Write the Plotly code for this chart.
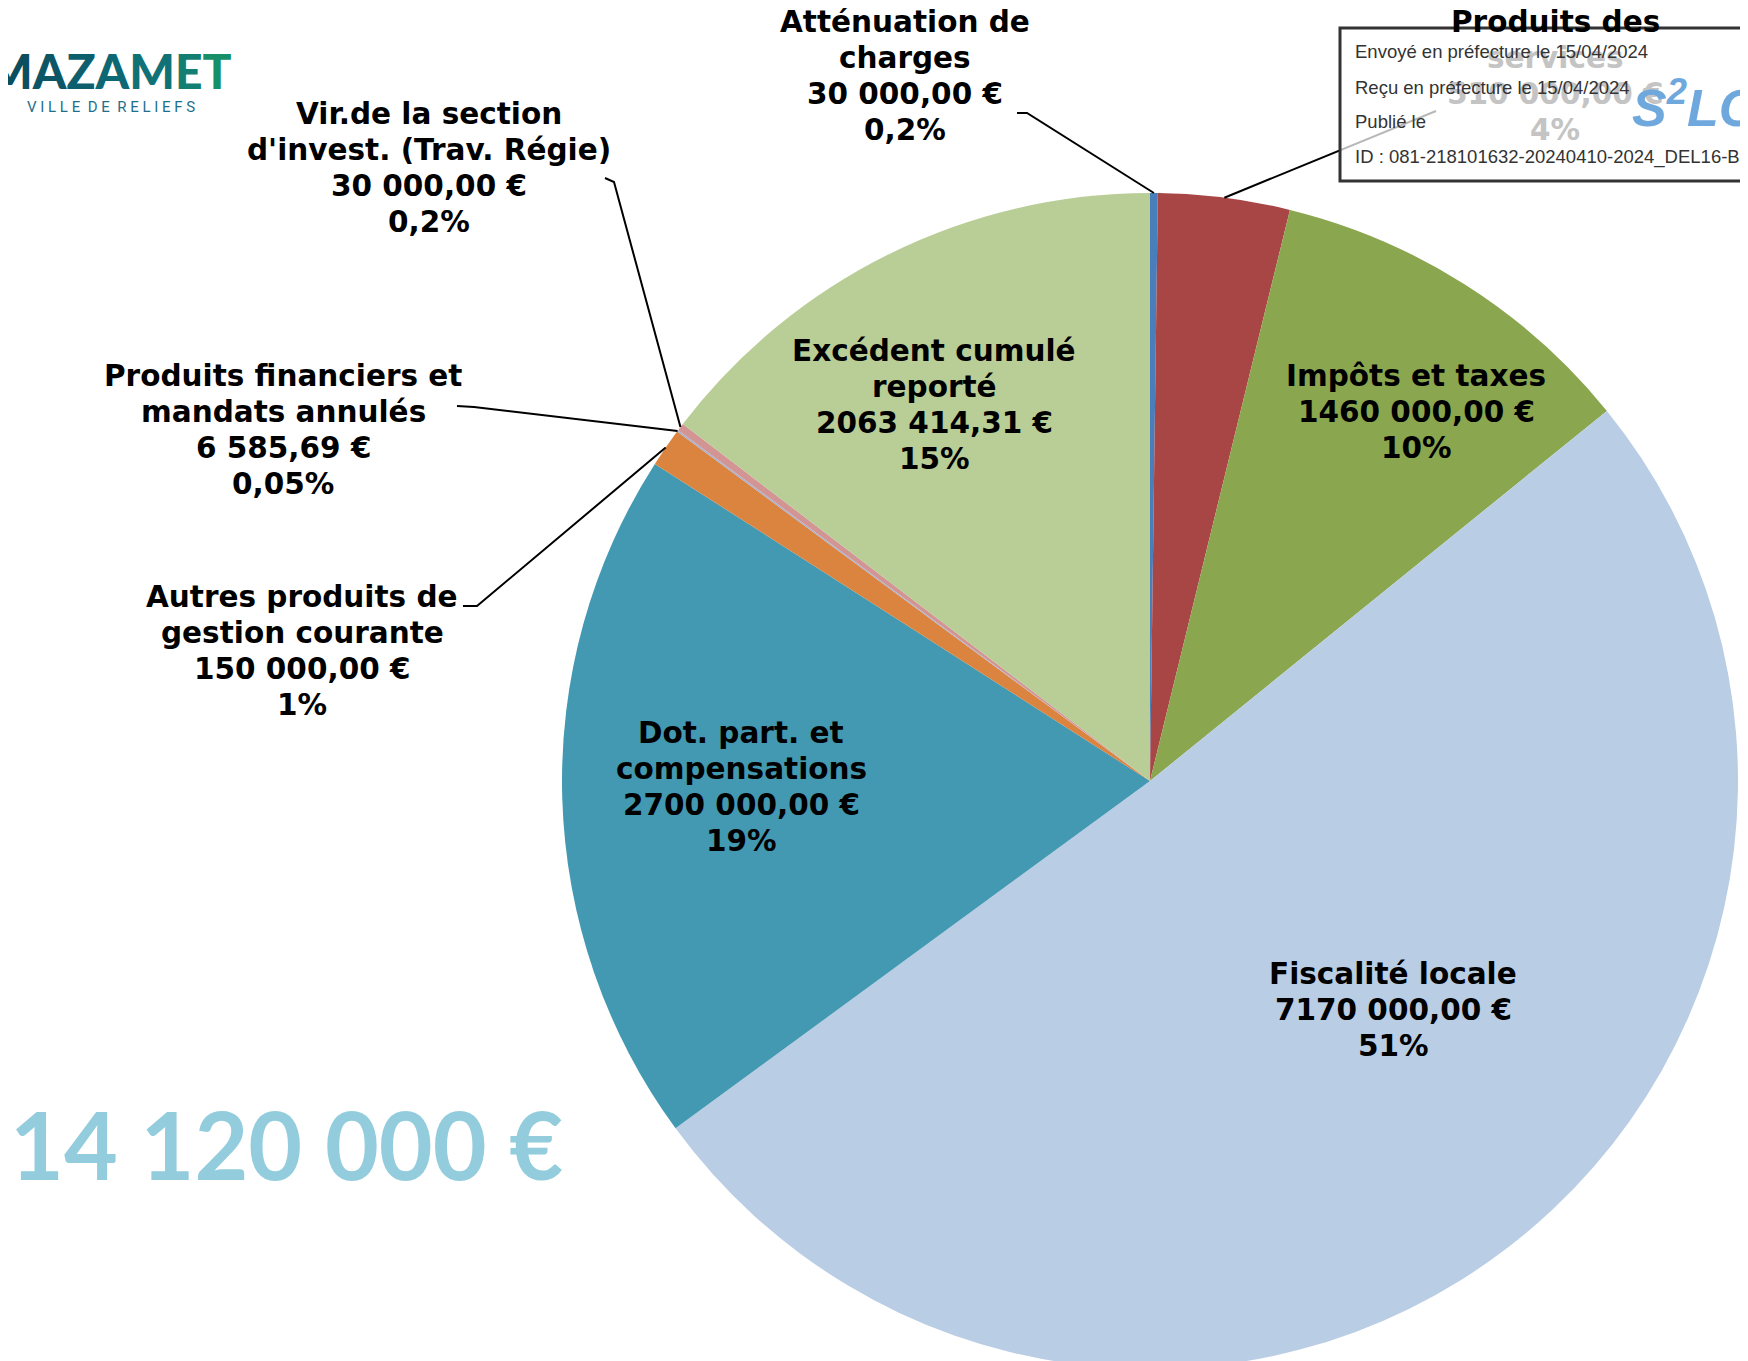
import math
import plotly.graph_objects as go

# ---------------- data ----------------
categories = [
    "Atténuation de charges",
    "Produits des services",
    "Impôts et taxes",
    "Fiscalité locale",
    "Dot. part. et compensations",
    "Autres produits de gestion courante",
    "Produits financiers et mandats annulés",
    "Vir.de la section d'invest. (Trav. Régie)",
    "Excédent cumulé reporté",
]
label_lines = [
    ["Atténuation de", "charges"],
    ["Produits des", "services"],
    ["Impôts et taxes"],
    ["Fiscalité locale"],
    ["Dot. part. et", "compensations"],
    ["Autres produits de", "gestion courante"],
    ["Produits financiers et", "mandats annulés"],
    ["Vir.de la section", "d'invest. (Trav. Régie)"],
    ["Excédent cumulé", "reporté"],
]
values = [30000, 510000, 1460000, 7170000, 2700000, 150000, 6585.69, 30000, 2063414.31]
percent_labels = ["0,2%", "4%", "10%", "51%", "19%", "1%", "0,05%", "0,2%", "15%"]
total_label = "14 120 000 €"
stamp_lines = [
    "Envoyé en préfecture le 15/04/2024",
    "Reçu en préfecture le 15/04/2024",
    "Publié le",
    "ID : 081-218101632-20240410-2024_DEL16-BF",
]

# ---------------- style / layout ----------------
W, H = 1748, 1361
OFF = 8  # page body margin
LINE_GAP = 36.0
colors = ["#4A7EBB", "#A84646", "#8AA64F", "#B9CDE5", "#4399B1",
          "#DA843F", "#A3B3D3", "#D39494", "#B9CD96"]


def px(x, y):
    """screen pixel -> paper coords (accounting for page margin)"""
    return (x - OFF) / W, 1 - (y - OFF) / H


PIE_TOP = 193
PIE_CX = 1150
R_X = 596
dom_x = [(PIE_CX - OFF - R_X) / W, (PIE_CX - OFF + R_X) / W]
dom_y = [0.0, 1 - (PIE_TOP - OFF) / H]
R = min(R_X, (H - (PIE_TOP - OFF)) / 2)
CY = PIE_TOP + R

# label centres (screen px) and leader starts (screen px)
label_pos = {0: (905, 76), 1: (1555, 76), 2: (1416, 412), 3: (1393, 1010),
             4: (741, 787), 5: (302, 651), 6: (283, 430), 7: (429, 168), 8: (934, 405)}
leader_start = {0: [(1017, 113), (1027, 113)],
                1: [(1436, 111)],
                5: [(463, 606), (477, 606)],
                6: [(457, 406), (474, 407)],
                7: [(605, 178), (614, 182)]}


def fmt_eur(v):
    s = f"{v:.2f}"
    ip, dp = s.split(".")
    if len(ip) > 3:
        ip = ip[:-3] + " " + ip[-3:]
    return f"{ip},{dp} €"


fig = go.Figure(go.Pie(
    labels=categories, values=values, sort=False, direction="clockwise",
    rotation=0, textinfo="none", hoverinfo="skip",
    marker=dict(colors=colors, line=dict(width=0)),
    domain=dict(x=dom_x, y=dom_y), showlegend=False,
))

total = sum(values)
cum = 0.0
mids = []
for v in values:
    mids.append((cum + v / 2) / total * 2 * math.pi)
    cum += v

shapes = []
annotations = []
for i, lines in enumerate(label_lines):
    text_lines = lines + [fmt_eur(values[i]), percent_labels[i]]
    cx, cy = label_pos[i]
    n = len(text_lines)
    for k, t in enumerate(text_lines):
        ly = cy + (k - (n - 1) / 2) * LINE_GAP
        col = "#c4c4c4" if (i == 1 and k > 0) else "#000000"
        x, y = px(cx, ly)
        annotations.append(dict(
            x=x, y=y, xref="paper", yref="paper", text=t, showarrow=False,
            xanchor="center", yanchor="middle", align="center",
            font=dict(family="DejaVu Sans", size=29.5, color=col, weight="bold"),
        ))
    if i in leader_start:
        a = mids[i]
        ex = PIE_CX + R * math.sin(a)
        ey = CY - R * math.cos(a)
        pts = leader_start[i] + [(ex, ey)]
        path = "M " + " L ".join(f"{px(p[0], p[1])[0]:.5f},{px(p[0], p[1])[1]:.5f}" for p in pts)
        shapes.append(dict(type="path", path=path, xref="paper", yref="paper",
                           line=dict(color="#000000", width=2), layer="above"))

# stamp box (semi transparent)
sx0, sy0 = px(1340, 28)
sx1, sy1 = px(1775, 181)
shapes.append(dict(type="rect", x0=sx0, x1=sx1, y0=sy1, y1=sy0, xref="paper", yref="paper",
                   fillcolor="rgba(255,255,255,0.72)", line=dict(color="#333333", width=3),
                   layer="above"))
for k, t in enumerate(stamp_lines):
    x, y = px(1353, 52 + 35 * k)
    annotations.append(dict(x=x, y=y, xref="paper", yref="paper", text=t, showarrow=False,
                            xanchor="left", yanchor="middle",
                            font=dict(family="Liberation Sans", size=18.5, color="#333333")))
x, y = px(1630, 104)
annotations.append(dict(x=x, y=y, xref="paper", yref="paper",
                        text="<i><b>S<sup>2</sup>LO</b></i>", showarrow=False,
                        xanchor="left", yanchor="middle",
                        font=dict(family="Liberation Sans", size=52, color="#6FA8DC")))

# big total
x, y = px(8, 1144)
annotations.append(dict(x=x, y=y, xref="paper", yref="paper", text=total_label,
                        showarrow=False, xanchor="left", yanchor="middle",
                        font=dict(family="Lato", size=93, color="#93CDDD", weight="bold")))

# logo
logo_cols = ["#0B4E5E", "#0C5666", "#0D5F6E", "#0E6873", "#107277", "#137F72", "#17906A"]
logo = "".join(f"<span style='color:{c}'>{ch}</span>" for ch, c in zip("MAZAMET", logo_cols))
x, y = px(233, 70)
annotations.append(dict(x=x, y=y, xref="paper", yref="paper", text=logo, showarrow=False,
                        xanchor="right", yanchor="middle",
                        font=dict(family="Lato", size=48, color="#0E5A6E", weight=900)))
x, y = px(111, 107)
annotations.append(dict(x=x, y=y, xref="paper", yref="paper",
                        text="V I L L E  D E  R E L I E F S", showarrow=False,
                        xanchor="center", yanchor="middle",
                        font=dict(family="Roboto", size=15, color="#1F6F8B")))

fig.update_layout(
    width=W, height=H, margin=dict(l=0, r=0, t=0, b=0),
    paper_bgcolor="white", plot_bgcolor="white",
    shapes=shapes, annotations=annotations, showlegend=False,
)

fig.write_html("out.html")
